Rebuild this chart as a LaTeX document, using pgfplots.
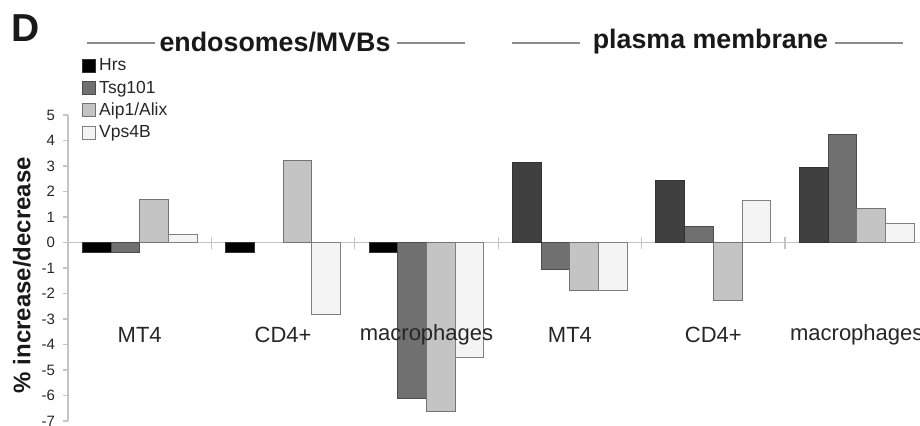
\documentclass[border=0pt]{standalone}
\usepackage{fontspec}
\setmainfont{Liberation Sans}
\usepackage{pgfplots}
\pgfplotsset{compat=1.18}
\definecolor{hrsA}{HTML}{000000}
\definecolor{hrsB}{HTML}{404040}
\definecolor{tsg}{HTML}{707070}
\definecolor{aip}{HTML}{C4C4C4}
\definecolor{vps}{HTML}{F4F4F4}
\definecolor{axgray}{HTML}{C4C4C4}
\definecolor{rulegray}{HTML}{8C8C8C}
\begin{document}
\begin{tikzpicture}
\useasboundingbox (0,0) rectangle (460pt,-212.5pt);
\begin{axis}[
  at={(34pt,-210.5pt)}, anchor=south west,
  scale only axis, width=426pt, height=153pt,
  xmin=-0.5, xmax=5.441, ymin=-7, ymax=5,
  ybar, bar width=0.2,
  axis x line=middle, axis y line=left,
  axis line style={-, draw=axgray, line width=0.6pt},
  xtick=\empty,
  ytick={-7,-6,...,5},
  yticklabels={-7,-6,-5,-4,-3,-2,-1,0,1,2,3,4,5},
  ytick align=outside, major tick length=2.5pt,
  ytick style={draw=axgray, line width=0.6pt},
  yticklabel style={font=\fontsize{7.5}{9}\selectfont, text=black!85, xshift=-0.5pt},
  clip=false,
  legend style={draw=none, fill=none, at={(0.016,1.196)}, anchor=north west,
    font=\fontsize{8.75}{10}\selectfont, inner sep=0pt, row sep=1pt, column sep=1pt,
    nodes={inner sep=0.6pt, text height=7pt, text depth=2pt, text=black!85}},
  legend cell align=left,
  legend image code/.code={\draw[#1] (0pt,-3.25pt) rectangle (6.5pt,3.25pt);},
]
\addplot[fill=hrsA, draw=black!80, line width=0.5pt, bar shift=-0.3] coordinates {(0,-0.4) (1,-0.4) (2,-0.4)};
\addlegendentry{Hrs}
\addplot[fill=tsg, draw=black!70, line width=0.5pt, bar shift=-0.1] coordinates {(0,-0.4) (2,-6.1) (3,-1.05) (4,0.62) (5,4.22)};
\addlegendentry{Tsg101}
\addplot[fill=aip, draw=black!55, line width=0.5pt, bar shift=0.1] coordinates {(0,1.7) (1,3.2) (2,-6.62) (3,-1.87) (4,-2.27) (5,1.33)};
\addlegendentry{Aip1/Alix}
\addplot[fill=vps, draw=black!50, line width=0.5pt, bar shift=0.3] coordinates {(0,0.3) (1,-2.82) (2,-4.5) (3,-1.87) (4,1.63) (5,0.73)};
\addlegendentry{Vps4B}
\addplot[fill=hrsB, draw=black!80, line width=0.5pt, bar shift=-0.3, forget plot] coordinates {(3,3.13) (4,2.43) (5,2.94)};
\pgfplotsinvokeforeach{0.5,1.5,2.5,3.5,4.5}{
  \draw[axgray, line width=0.6pt] (axis cs:#1,-0.235) -- (axis cs:#1,0.235);
}
\node[font=\fontsize{11}{13}\selectfont, text=black!85] at (axis cs:0,-3.62) {MT4};
\node[font=\fontsize{11}{13}\selectfont, text=black!85] at (axis cs:1,-3.62) {CD4+};
\node[font=\fontsize{11}{13}\selectfont, text=black!85] at (axis cs:2,-3.62) {macrophages};
\node[font=\fontsize{11}{13}\selectfont, text=black!85] at (axis cs:3,-3.62) {MT4};
\node[font=\fontsize{11}{13}\selectfont, text=black!85] at (axis cs:4,-3.62) {CD4+};
\node[font=\fontsize{11}{13}\selectfont, text=black!85] at (axis cs:5,-3.62) {macrophages};
\end{axis}
\begin{scope}[x=0.5pt, y=-0.5pt]
\node[font=\bfseries\fontsize{19.5}{22}\selectfont, text=black!90] at (26,28) {D};
\draw[rulegray, line width=0.8pt] (87,43) -- (155,43);
\draw[rulegray, line width=0.8pt] (397,43) -- (465,43);
\node[font=\bfseries\fontsize{13.4}{15}\selectfont, text=black!90] at (275,42) {endosomes/MVBs};
\draw[rulegray, line width=0.8pt] (512,43) -- (580,43);
\draw[rulegray, line width=0.8pt] (835,43) -- (903,43);
\node[font=\bfseries\fontsize{13.4}{15}\selectfont, text=black!90] at (710.5,42) {plasma membrane};
\node[font=\bfseries\fontsize{12}{14}\selectfont, text=black!90, rotate=90] at (22,275) {\% increase/decrease};
\end{scope}
\end{tikzpicture}
\end{document}
